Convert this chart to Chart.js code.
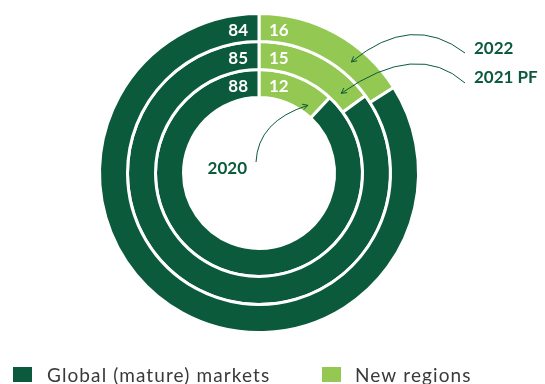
<!DOCTYPE html>
<html><head><meta charset="utf-8">
<script src="https://cdn.jsdelivr.net/npm/chart.js@4"></script>
<style>html,body{margin:0;padding:0;background:#fff;}#wrap{width:545px;height:384px;position:relative;}</style>
</head><body><div id="wrap"><canvas id="c" width="545" height="384"></canvas></div>
<script>
// ---- data ----
const categories = ['New regions', 'Global (mature) markets'];
const years = ['2022', '2021 PF', '2020'];
const newRegions = [16, 15, 12];
const globalMarkets = [84, 85, 88];
const legendOrder = ['Global (mature) markets', 'New regions'];

const LIGHT = '#93c953';
const DARK = '#0b5a3c';
const colorFor = {'New regions': LIGHT, 'Global (mature) markets': DARK};

const datasets = years.map((y, i) => ({
  label: y,
  data: [newRegions[i], globalMarkets[i]],
  backgroundColor: [LIGHT, DARK],
  borderColor: '#ffffff',
  borderWidth: 3,
  hoverOffset: 0
}));

const valueLabels = {
  id: 'valueLabels',
  afterDatasetsDraw(chart) {
    const ctx = chart.ctx;
    ctx.save();
    ctx.font = 'bold 17px Lato';
    ctx.fillStyle = '#ffffff';
    ctx.textBaseline = 'middle';
    chart.data.datasets.forEach((ds, d) => {
      const arc = chart.getDatasetMeta(d).data[0];
      const p = arc.getProps(['x', 'y', 'innerRadius', 'outerRadius']);
      const yy = p.y - (p.innerRadius + p.outerRadius) / 2 + 3.5;
      ctx.textAlign = 'right';
      ctx.fillText(String(ds.data[1]), p.x - 11, yy);
      ctx.textAlign = 'left';
      ctx.fillText(String(ds.data[0]), p.x + 10, yy);
    });
    ctx.restore();
  }
};

function arrow(ctx, p0, c, p2) {
  ctx.beginPath();
  ctx.moveTo(p0[0], p0[1]);
  ctx.quadraticCurveTo(c[0], c[1], p2[0], p2[1]);
  ctx.stroke();
  const ang = Math.atan2(p2[1] - c[1], p2[0] - c[0]);
  const L = 6, w = 0.5;
  ctx.beginPath();
  ctx.moveTo(p2[0] - L * Math.cos(ang - w), p2[1] - L * Math.sin(ang - w));
  ctx.lineTo(p2[0], p2[1]);
  ctx.lineTo(p2[0] - L * Math.cos(ang + w), p2[1] - L * Math.sin(ang + w));
  ctx.stroke();
}

function pointOnArc(chart, d, frac, dr) {
  const arc = chart.getDatasetMeta(d).data[0];
  const p = arc.getProps(['x', 'y', 'innerRadius', 'outerRadius', 'startAngle', 'endAngle']);
  const a = p.startAngle + (p.endAngle - p.startAngle) * frac;
  const r = (p.innerRadius + p.outerRadius) / 2 + dr;
  return [p.x + r * Math.cos(a), p.y + r * Math.sin(a)];
}

const annotations = {
  id: 'annotations',
  afterDraw(chart) {
    const ctx = chart.ctx;
    ctx.save();
    ctx.strokeStyle = DARK;
    ctx.lineWidth = 1;
    ctx.fillStyle = DARK;
    ctx.font = 'bold 17px Lato';
    ctx.textBaseline = 'middle';
    ctx.textAlign = 'left';
    // 2022
    ctx.fillText(years[0], 474, 49);
    arrow(ctx, [465, 53], [412, 12], pointOnArc(chart, 0, 0.69, -1));
    // 2021 PF
    ctx.fillText(years[1], 474, 78);
    arrow(ctx, [465, 83], [417, 40], pointOnArc(chart, 1, 0.85, -3));
    // 2020
    ctx.textAlign = 'right';
    ctx.fillText(years[2], 247, 169);
    arrow(ctx, [256, 162], [258, 121], pointOnArc(chart, 2, 0.83, -6));
    ctx.restore();

    // legend
    ctx.save();
    ctx.font = '19px Lato';
    ctx.letterSpacing = '1.1px';
    ctx.textBaseline = 'alphabetic';
    ctx.textAlign = 'left';
    const pos = [[13, 47], [322, 355]];
    legendOrder.forEach((lab, i) => {
      ctx.fillStyle = colorFor[lab];
      ctx.fillRect(pos[i][0], 367, 19, 15);
      ctx.fillStyle = '#3a3a3a';
      ctx.fillText(lab, pos[i][1], 382);
    });
    ctx.restore();
  }
};

new Chart(document.getElementById('c'), {
  type: 'doughnut',
  data: { labels: categories, datasets },
  options: {
    responsive: false,
    animation: false,
    radius: 159.5,
    cutout: (75.5 / 159.5 * 100) + '%',
    rotation: 0,
    layout: { padding: { left: 0, right: 27, top: 0, bottom: 38 } },
    plugins: { legend: { display: false }, tooltip: { enabled: false } }
  },
  plugins: [valueLabels, annotations]
});
</script></body></html>
